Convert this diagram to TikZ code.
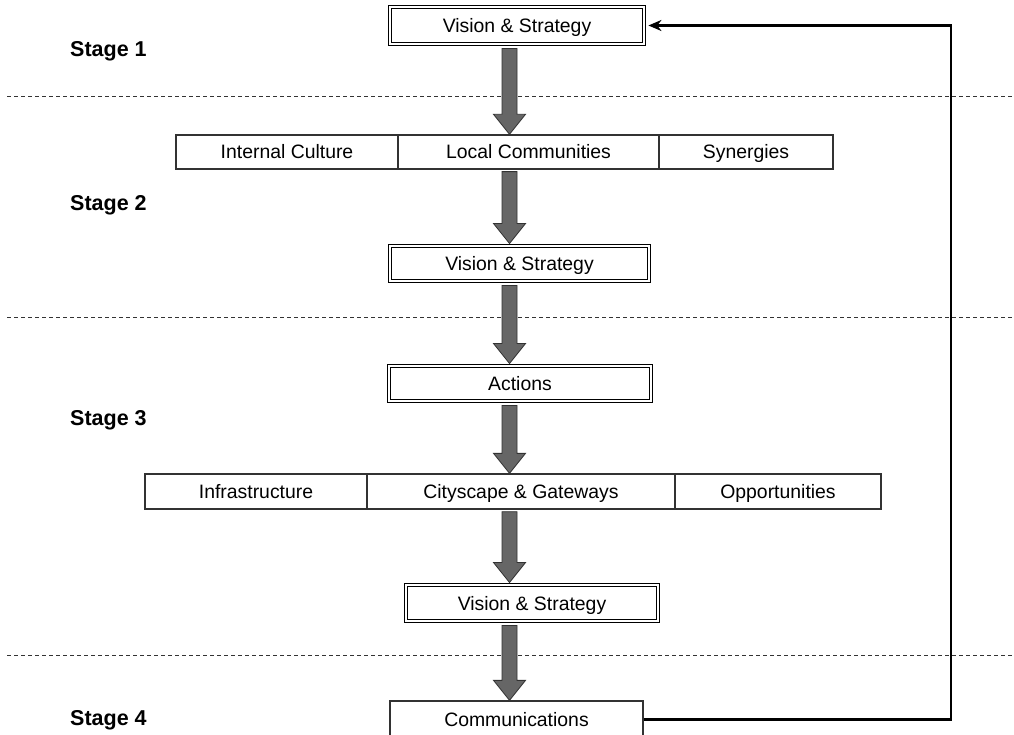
\documentclass[tikz,border=0pt]{standalone}
\usepackage{fontspec}
\setmainfont{Liberation Sans}
\usetikzlibrary{arrows.meta,calc}
\definecolor{arrgray}{RGB}{102,102,102}
\definecolor{edgegray}{RGB}{50,50,50}
\begin{document}
\begin{tikzpicture}[x=1pt,y=-1pt,
  txt/.style={font=\fontsize{19.4}{23}\selectfont, inner sep=0pt, text height=14pt, text depth=0pt},
  stagelbl/.style={font=\fontsize{21.5}{25}\selectfont\bfseries, anchor=west, inner sep=0pt, text height=15.5pt, text depth=0pt},
  dbox/.style={txt, draw=black, line width=0.9pt, double=white, double distance=2.2pt},
  cell/.style={txt, draw=edgegray, line width=1.3pt},
  garrow/.style={fill=arrgray, draw=edgegray, line width=0.8pt, line join=miter},
  sep/.style={draw=black!80, line width=0.9pt, dash pattern=on 4pt off 3pt},
  fb/.style={draw=black, line width=2.6pt, -{Stealth[length=13pt,width=11pt]}}
]
\clip (0,0) rectangle (1014,735);
\fill[white] (0,0) rectangle (1014,735);

% separators
\draw[sep] (7,96) -- (1014,96);
\draw[sep] (7,317) -- (1014,317);
\draw[sep] (7,655) -- (1014,655);

% stage labels
\node[stagelbl] (s1) at (70,49) {Stage 1};
\node[stagelbl] (s2) at (70,203) {Stage 2};
\node[stagelbl] (s3) at (70,418) {Stage 3};
\node[stagelbl] (s4) at (70,718) {Stage 4};

% boxes
\node[dbox, minimum width=254, minimum height=37] (v1) at (517,25.5) {Vision \& Strategy};
\node[cell, minimum width=222, minimum height=34] (r1a) at (287,152) {Internal Culture};
\node[cell, minimum width=261, minimum height=34] (r1b) at (528.5,152) {Local Communities};
\node[cell, minimum width=174, minimum height=34] (r1c) at (746,152) {Synergies};
\node[dbox, minimum width=259, minimum height=35] (v2) at (519.5,263.5) {Vision \& Strategy};
\node[dbox, minimum width=262, minimum height=35] (act) at (520,383.5) {Actions};
\node[cell, minimum width=222, minimum height=35] (r2a) at (256,491.5) {Infrastructure};
\node[cell, minimum width=308, minimum height=35] (r2b) at (521,491.5) {Cityscape \& Gateways};
\node[cell, minimum width=206, minimum height=35] (r2c) at (778,491.5) {Opportunities};
\node[dbox, minimum width=252, minimum height=36] (v3) at (532,603) {Vision \& Strategy};
\node[cell, minimum width=253, minimum height=37] (comm) at (516.5,719.5) {Communications};

% arrow axis
\coordinate (ax) at (509.5,0);
\newcommand{\blockarrow}[2]{%
  \path[garrow] let \p1=(#1), \p2=(#2) in
    (\x1-7.5pt,\y1) -- (\x1+7.5pt,\y1) -- (\x1+7.5pt,\y2+20pt) -- (\x1+16pt,\y2+20pt)
    -- (\x1,\y2) -- (\x1-16pt,\y2+20pt) -- (\x1-7.5pt,\y2+20pt) -- cycle;}

\blockarrow{$(v1.south -| ax)+(0,4)$}{r1b.north -| ax}
\blockarrow{$(r1b.south -| ax)+(0,2)$}{$(v2.north -| ax)+(0,-2)$}
\blockarrow{$(v2.south -| ax)+(0,4)$}{$(act.north -| ax)+(0,-2)$}
\blockarrow{$(act.south -| ax)+(0,4)$}{r2b.north -| ax}
\blockarrow{$(r2b.south -| ax)+(0,2)$}{$(v3.north -| ax)+(0,-2)$}
\blockarrow{$(v3.south -| ax)+(0,4)$}{comm.north -| ax}

% feedback loop
\coordinate (fbx) at (951,0);
\draw[fb] (comm.east) -- (comm.east -| fbx) -- (fbx |- v1.east) -- ($(v1.east)+(4,0)$);
\end{tikzpicture}
\end{document}
